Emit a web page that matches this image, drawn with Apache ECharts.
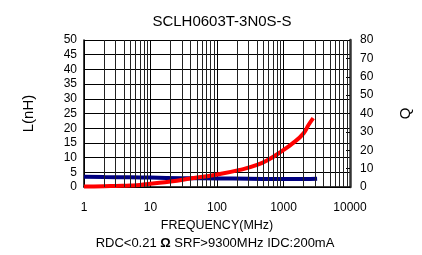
<!DOCTYPE html>
<html>
<head>
<meta charset="utf-8">
<script src="https://cdn.jsdelivr.net/npm/echarts@6/dist/echarts.min.js"></script>
<style>
  html, body { margin: 0; padding: 0; background: #fff; }
  #chart { width: 422px; height: 255px; }
</style>
</head>
<body>
<div id="chart"></div>
<script>
// inductance (nH) vs frequency (MHz)
const lFreq = [1, 2, 5, 10, 30, 100, 300, 1000, 2000, 3200]
const lValues = [3.5, 3.4, 3.3, 3.2, 3.0, 2.9, 2.8, 2.7, 2.7, 2.8]
// Q vs frequency (MHz)
const qFreq = [1, 2, 3, 5, 7, 10, 20, 40, 100, 220, 400, 600, 900, 1400, 2000, 2400, 2800]
const qValues = [0.3, 0.4, 0.6, 0.8, 1.1, 1.8, 3.0, 4.6, 6.8, 9.3, 12.0, 15.0, 19.0, 24.0, 29.2, 34.0, 37.5]
// minor vertical grid lines inside each decade
const minorX = []
for (let d = 1; d < 10000; d *= 10) {
  for (let k = 2; k <= 9; k++) minorX.push(d * k)
}

const chart = echarts.init(document.getElementById('chart'))
const font = 'Liberation Sans, Arial, sans-serif'
const option = {
  animation: false,
  title: {
    text: 'SCLH0603T-3N0S-S',
    left: 217,
    textAlign: 'center',
    top: 9,
    textStyle: { fontFamily: font, fontSize: 15, fontWeight: 'normal', color: '#000' }
  },
  grid: { left: 84, right: 72, top: 40, bottom: 68 },
  xAxis: {
    type: 'log',
    logBase: 10,
    min: 1,
    max: 10000,
    name: 'FREQUENCY(MHz)',
    nameLocation: 'middle',
    nameGap: 31,
    nameTextStyle: { fontFamily: font, fontSize: 12.5, color: '#000' },
    axisLine: { show: true, lineStyle: { color: '#000', width: 1.5 } },
    axisTick: { show: false },
    axisLabel: {
      fontFamily: font, fontSize: 12, color: '#000', margin: 15,
      formatter: v => String(Math.round(v))
    },
    splitLine: { show: true, lineStyle: { color: '#000', width: 1 } }
  },
  yAxis: [{
    type: 'value',
    min: 0,
    max: 50,
    interval: 5,
    name: 'L(nH)',
    nameLocation: 'middle',
    nameRotate: 90,
    nameGap: 48,
    nameTextStyle: { fontFamily: font, fontSize: 15, color: '#000' },
    axisLine: { show: true, lineStyle: { color: '#000', width: 1.5 } },
    axisTick: { show: false },
    axisLabel: { fontFamily: font, fontSize: 12, color: '#000', margin: 7 },
    splitLine: { show: true, lineStyle: { color: '#000', width: 1 } }
  }, {
    type: 'value',
    min: 0,
    max: 80,
    interval: 10,
    position: 'right',
    name: 'Q',
    nameLocation: 'middle',
    nameRotate: 90,
    nameGap: 48,
    nameTextStyle: { fontFamily: font, fontSize: 15, color: '#000' },
    axisLine: { show: true, lineStyle: { color: '#333', width: 2.5 } },
    axisTick: { show: true, inside: true, length: 4, lineStyle: { color: '#000' } },
    axisLabel: { fontFamily: font, fontSize: 12, color: '#000', margin: 10 },
    splitLine: { show: false }
  }],
  series: [{
    name: 'grid',
    type: 'line',
    data: [],
    silent: true,
    markLine: {
      silent: true,
      symbol: 'none',
      label: { show: false },
      lineStyle: { color: '#222', width: 1, type: 'solid' },
      data: minorX.map(v => ({ xAxis: v }))
    }
  }, {
    name: 'L',
    type: 'line',
    yAxisIndex: 0,
    data: lFreq.map((f, i) => [f, lValues[i]]),
    showSymbol: false,
    smooth: true,
    lineStyle: { color: '#000080', width: 4 },
    z: 3
  }, {
    name: 'Q',
    type: 'line',
    yAxisIndex: 1,
    data: qFreq.map((f, i) => [f, qValues[i]]),
    showSymbol: false,
    smooth: true,
    lineStyle: { color: '#ff0000', width: 4 },
    z: 4
  }],
  graphic: [{
    type: 'text',
    x: 215,
    y: 243,
    style: {
      text: 'RDC<0.21 {b|Ω} SRF>9300MHz IDC:200mA',
      rich: { b: { fontWeight: 'bold', fontFamily: font, fontSize: 13, fill: '#000' } },
      font: '13px ' + font,
      fill: '#000',
      align: 'center',
      verticalAlign: 'middle'
    }
  }]
}
chart.setOption(option)
</script>
</body>
</html>
